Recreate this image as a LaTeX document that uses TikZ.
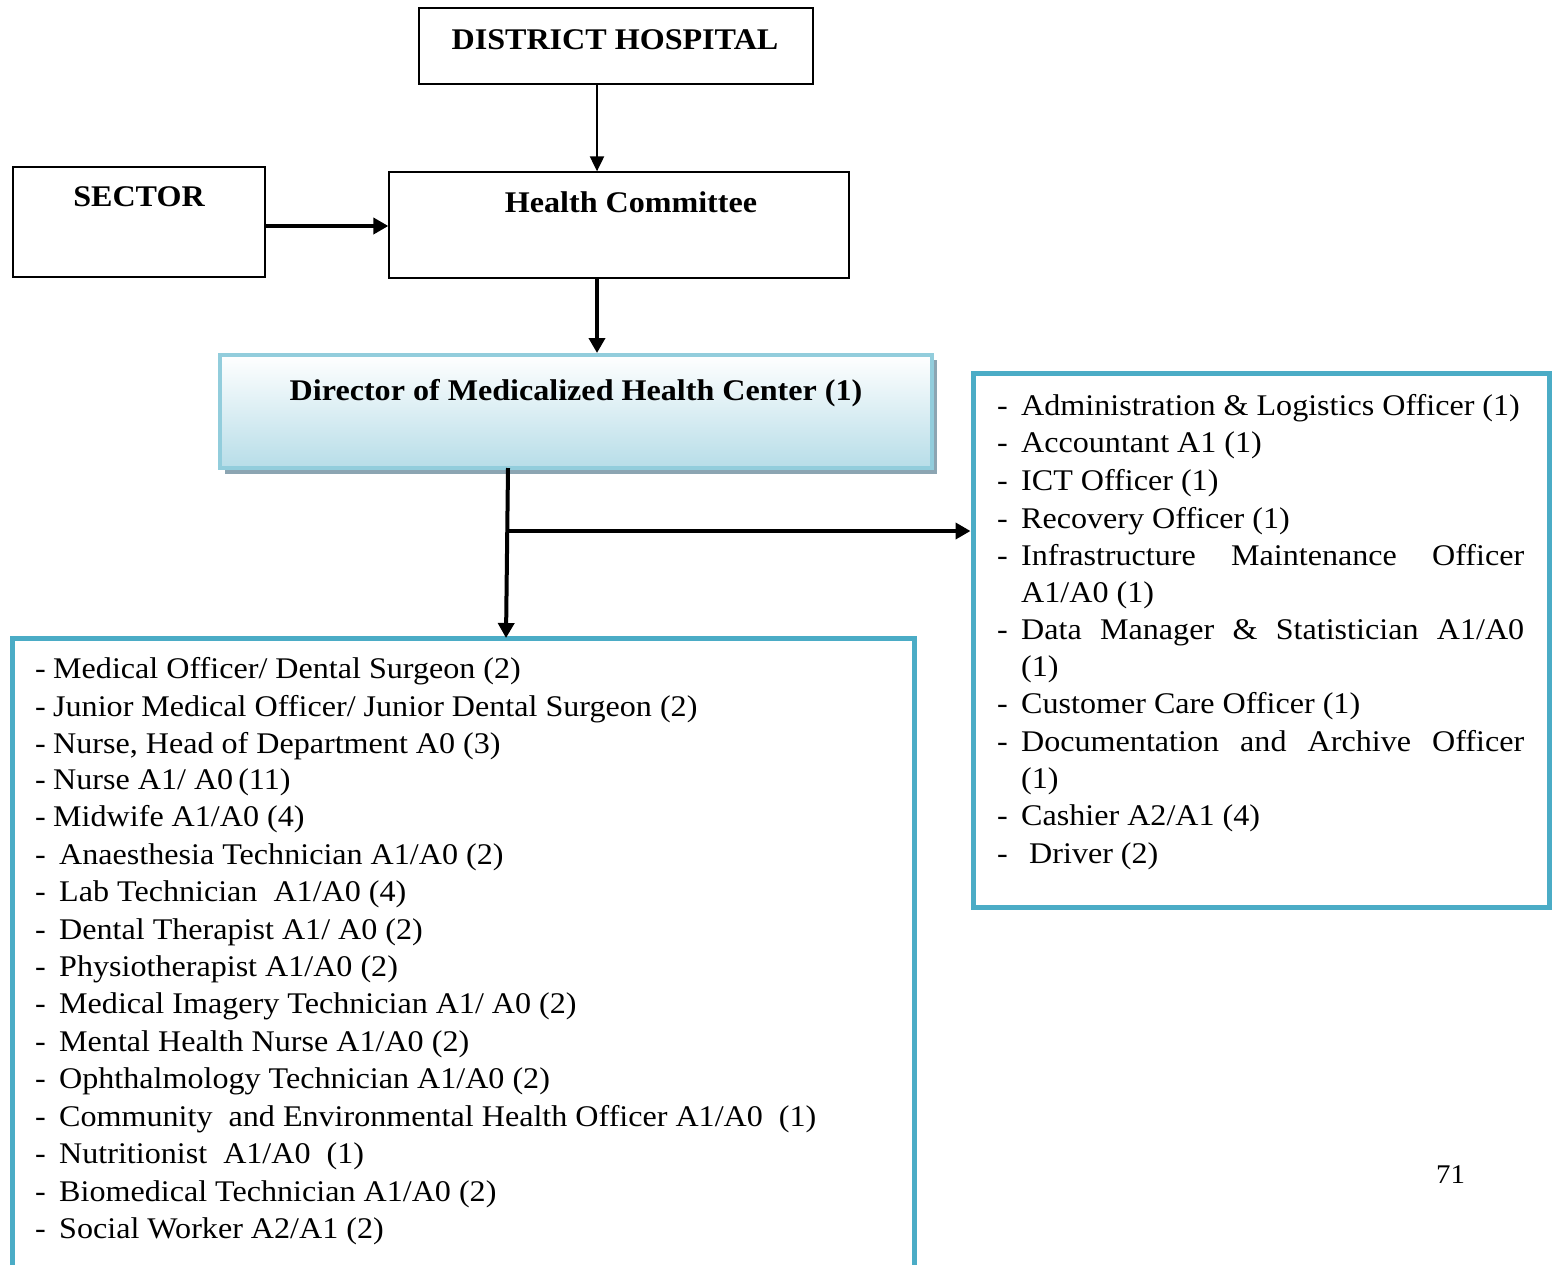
\documentclass[tikz,border=0pt]{standalone}
\usepackage{fontspec}
\setmainfont[FakeStretch=1.07]{Liberation Serif}
\usetikzlibrary{arrows.meta}
\definecolor{boxblue}{RGB}{75,172,198}
\definecolor{dirborder}{RGB}{146,205,220}
\definecolor{dirfill}{RGB}{183,221,232}
\definecolor{shadowgrey}{RGB}{140,165,178}
\tikzset{
  plainbox/.style={draw=black,line width=1.3pt,rectangle,inner sep=0pt},
  bluebox/.style={draw=boxblue,line width=5pt},
  head/.style={font=\fontsize{30}{35}\selectfont\bfseries,inner sep=0pt,anchor=base},
  item/.style={font=\fontsize{30}{35}\selectfont,inner sep=0pt,anchor=base west},
  thinarrow/.style={line width=2pt,-{Triangle[width=14pt,length=15pt]}},
  thickarrow/.style={line width=4pt,-{Triangle[width=16pt,length=15pt]}},
}
\begin{document}
\begin{tikzpicture}[x=1pt,y=-1pt]
\useasboundingbox (0,0) rectangle (1554,1264);
% boxes
\node[plainbox,minimum width=394pt,minimum height=76pt] (dh) at (616,46) {};
\node[plainbox,minimum width=252pt,minimum height=110pt] (sec) at (139,222) {};
\node[plainbox,minimum width=460pt,minimum height=106pt] (hc) at (619,225) {};
\node[head] (dht) at (615,49) {DISTRICT HOSPITAL};
\node[head] (sect) at (139,206) {SECTOR};
\node[head] (hct) at (631,212) {Health Committee};
% director
\fill[shadowgrey] (225,360) rectangle (937,474);
\shade[top color=white,bottom color=dirfill] (220,355) rectangle (932,468);
\node[draw=dirborder,line width=4pt,minimum width=712pt,minimum height=113pt,inner sep=0pt] (dir) at (576,411.5) {};
\node[head] (dirt) at (576,400) {Director of Medicalized Health Center (1)};
% left box
\draw[bluebox] (12,1270) -- (12,638) -- (914,638) -- (914,1270);
\coordinate (lb) at (506,636);
% right box
\node[bluebox,minimum width=576pt,minimum height=534pt,inner sep=0pt] (rb) at (1261,640) {};
% connectors
\coordinate (x597) at (597,0);
\coordinate (dsplit) at (508,468);
\coordinate (branch) at (508,531);
\draw[thinarrow] (dh.south -| x597) -- (hc.north -| x597);
\draw[thickarrow] (sec.east |- 0,226) -- (hc.west |- 0,226);
\draw[thickarrow] (hc.south -| x597) -- (dir.north -| x597);
\draw[thickarrow] (dsplit) -- ([yshift=-2pt]lb);
\draw[line width=4pt,-{Triangle[width=16pt,length=15pt]}] ([xshift=-2pt]branch) -- (rb.west |- branch);
% left items
\foreach \i/\y/\t in {
 1/668/{Medical Officer/ Dental Surgeon (2)},
 2/706/{Junior Medical Officer/ Junior Dental Surgeon (2)},
 3/743/{Nurse, Head of Department A0 (3)},
 4/779/{Nurse A1/ A0\,(11)},
 5/816/{Midwife A1/A0 (4)}}{
  \node[item] (ld\i) at (35,\y+10) {-};
  \node[item] (l\i) at (53,\y+10) {\t};
}
\foreach \i/\y/\t in {
 6/854/{Anaesthesia Technician A1/A0 (2)},
 7/891/{Lab Technician~ A1/A0 (4)},
 8/929/{Dental Therapist A1/ A0 (2)},
 9/966/{Physiotherapist A1/A0 (2)},
 10/1003/{Medical Imagery Technician A1/ A0 (2)},
 11/1041/{Mental Health Nurse A1/A0 (2)},
 12/1078/{Ophthalmology Technician A1/A0 (2)},
 13/1116/{Community~ and Environmental Health Officer A1/A0~ (1)},
 14/1153/{Nutritionist~ A1/A0~ (1)},
 15/1191/{Biomedical Technician A1/A0 (2)},
 16/1228/{Social Worker A2/A1 (2)}}{
  \node[item] (ld\i) at (35,\y+10) {-};
  \node[item] (l\i) at (59,\y+10) {\t};
}
% right items
\foreach \i/\y/\t in {
 1/405/{Administration \& Logistics Officer (1)},
 2/442/{Accountant A1 (1)},
 3/480/{ICT Officer (1)},
 4/518/{Recovery Officer (1)},
 5/555/{\hbox to 503pt{Infrastructure\hfill Maintenance\hfill Officer}},
 7/629/{\hbox to 503pt{Data\hfill Manager\hfill \&\hfill Statistician\hfill A1/A0}},
 9/703/{Customer Care Officer (1)},
 10/741/{\hbox to 503pt{Documentation\hfill and\hfill Archive\hfill Officer}},
 12/815/{Cashier A2/A1 (4)}}{
  \node[item] (rd\i) at (997,\y+10) {-};
  \node[item] (r\i) at (1021,\y+10) {\t};
}
\node[item] (r6) at (1021,602) {A1/A0 (1)};
\node[item] (r8) at (1021,676) {(1)};
\node[item] (r11) at (1021,788) {(1)};
\node[item] (rd13) at (997,863) {-};
\node[item] (r13) at (1029,863) {Driver (2)};
% page number
\node[item,font=\fontsize{27}{32}\selectfont] (pg) at (1436,1183) {71};
\end{tikzpicture}
\end{document}
